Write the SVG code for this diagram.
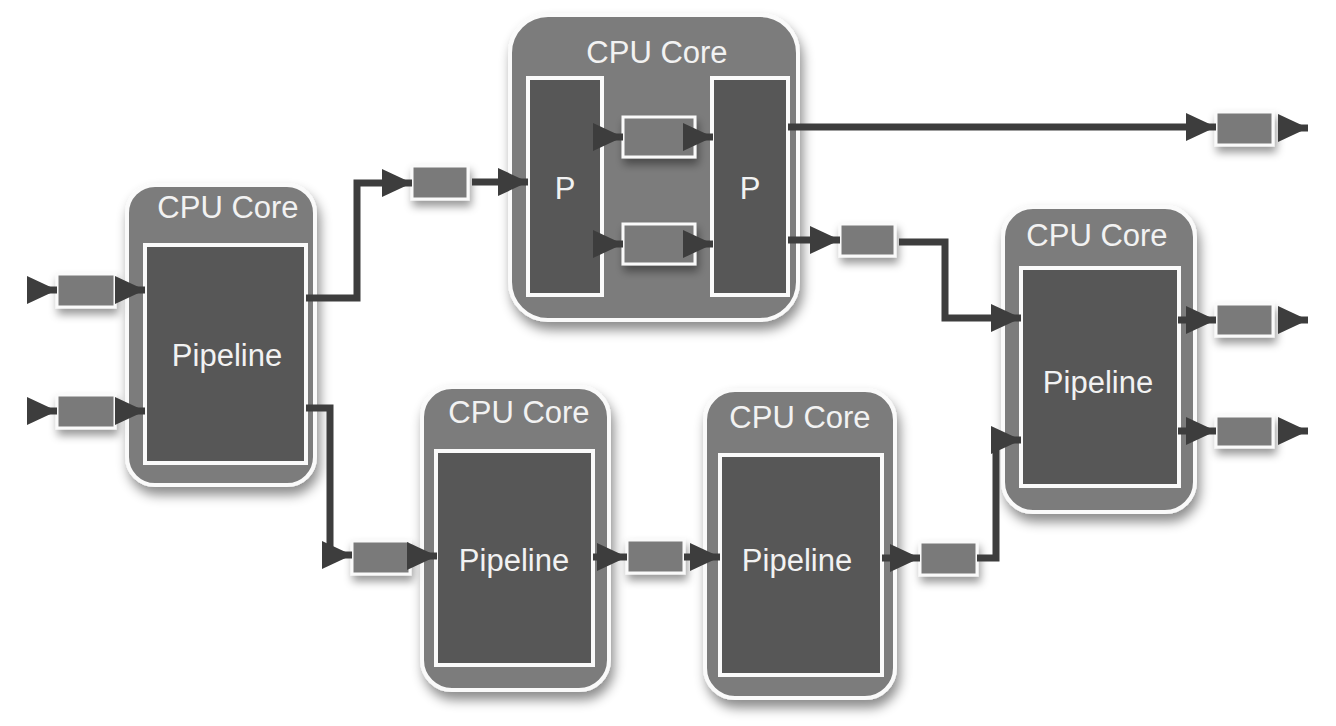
<svg xmlns="http://www.w3.org/2000/svg" width="1336" height="726" viewBox="0 0 1336 726">
<style>
.core{fill:#7c7c7c;stroke:#fafafa;stroke-width:4;filter:url(#sh)}
.pipe{fill:#575757;stroke:#fafafa;stroke-width:4}
.box{fill:#7a7a7a;stroke:#fafafa;stroke-width:3;filter:url(#sh2)}
.t{font-family:"Liberation Sans",Arial,sans-serif;font-size:31px;fill:#f2f2f2;text-anchor:middle}
.c{fill:none;stroke:#3d3d3d;stroke-width:7;stroke-linejoin:miter;marker-end:url(#ah)}
</style>
<defs>
<filter id="sh" x="-20%" y="-20%" width="140%" height="140%">
<feDropShadow dx="3" dy="8" stdDeviation="6" flood-color="#000" flood-opacity="0.45"/>
</filter>
<filter id="sh2" x="-40%" y="-60%" width="180%" height="220%">
<feDropShadow dx="2" dy="6" stdDeviation="4" flood-color="#000" flood-opacity="0.4"/>
</filter>
<marker id="ah" markerUnits="userSpaceOnUse" viewBox="0 0 30 28" markerWidth="30" markerHeight="28" refX="30" refY="14" orient="auto">
<path d="M0,0 L30,14 L0,28 Z" fill="#3d3d3d"/>
</marker>
</defs>
<rect width="1336" height="726" fill="#ffffff"/>

<g id="core1">
<rect class="core" x="127" y="185" width="188" height="300" rx="28"/>
<rect class="pipe" x="145" y="245" width="161" height="218"/>
<text class="t" x="228" y="218">CPU Core</text>
<text class="t" x="227" y="366">Pipeline</text>
</g>

<g id="core-top">
<rect class="core" x="510" y="15" width="288" height="305" rx="38"/>
<text class="t" x="657" y="63">CPU Core</text>
<rect class="pipe" x="528" y="78" width="74" height="217"/>
<rect class="pipe" x="712" y="78" width="76" height="217"/>
<text class="t" x="565" y="199">P</text>
<text class="t" x="750" y="199">P</text>
</g>

<g id="core2">
<rect class="core" x="422" y="387" width="187" height="303" rx="30"/>
<rect class="pipe" x="436" y="451" width="157" height="214"/>
<text class="t" x="519" y="423">CPU Core</text>
<text class="t" x="514" y="571">Pipeline</text>
</g>

<g id="core3">
<rect class="core" x="705" y="390" width="190" height="308" rx="30"/>
<rect class="pipe" x="720" y="455" width="162" height="220"/>
<text class="t" x="800" y="428">CPU Core</text>
<text class="t" x="797" y="571">Pipeline</text>
</g>

<g id="core4">
<rect class="core" x="1003" y="207" width="192" height="305" rx="30"/>
<rect class="pipe" x="1021" y="268" width="158" height="218"/>
<text class="t" x="1097" y="246">CPU Core</text>
<text class="t" x="1098" y="393">Pipeline</text>
</g>

<g id="b1"><rect class="box" x="57" y="274" width="58" height="33"/></g>
<g id="b2"><rect class="box" x="57" y="395" width="58" height="33"/></g>
<g id="b3"><rect class="box" x="412" y="166" width="56" height="33"/></g>
<g id="b4"><rect class="box" x="623" y="117" width="72" height="40"/></g>
<g id="b5"><rect class="box" x="623" y="224" width="72" height="40"/></g>
<g id="b6"><rect class="box" x="840" y="224" width="55" height="32"/></g>
<g id="b7"><rect class="box" x="1216" y="112" width="57" height="33"/></g>
<g id="b8"><rect class="box" x="1216" y="304" width="57" height="32"/></g>
<g id="b9"><rect class="box" x="1216" y="416" width="57" height="31"/></g>
<g id="b10"><rect class="box" x="352" y="541" width="58" height="33"/></g>
<g id="b11"><rect class="box" x="627" y="540" width="57" height="33"/></g>
<g id="b12"><rect class="box" x="920" y="542" width="57" height="33"/></g>

<g id="connectors">
<path class="c" d="M29,290 H57"/>
<path class="c" d="M115,290 H145"/>
<path class="c" d="M29,411 H57"/>
<path class="c" d="M115,411 H145"/>
<path class="c" d="M306,298 H357 V183 H412"/>
<path class="c" d="M472,182 H528"/>
<path class="c" d="M598,137 H623"/>
<path class="c" d="M693,137 H713"/>
<path class="c" d="M598,244 H623"/>
<path class="c" d="M693,244 H713"/>
<path class="c" d="M788,127 H1216"/>
<path class="c" d="M1278,128 H1308"/>
<path class="c" d="M788,240 H840"/>
<path class="c" d="M899,242 H945 V318 H1021"/>
<path class="c" d="M1178,320 H1216"/>
<path class="c" d="M1278,320 H1308"/>
<path class="c" d="M1178,431 H1216"/>
<path class="c" d="M1278,431 H1308"/>
<path class="c" d="M306,408 H330 V555 H352"/>
<path class="c" d="M410,556 H437"/>
<path class="c" d="M593,557 H627"/>
<path class="c" d="M684,557 H720"/>
<path class="c" d="M882,558 H920"/>
<path class="c" d="M977,558 H996 V440 H1021"/>
</g>
</svg>
